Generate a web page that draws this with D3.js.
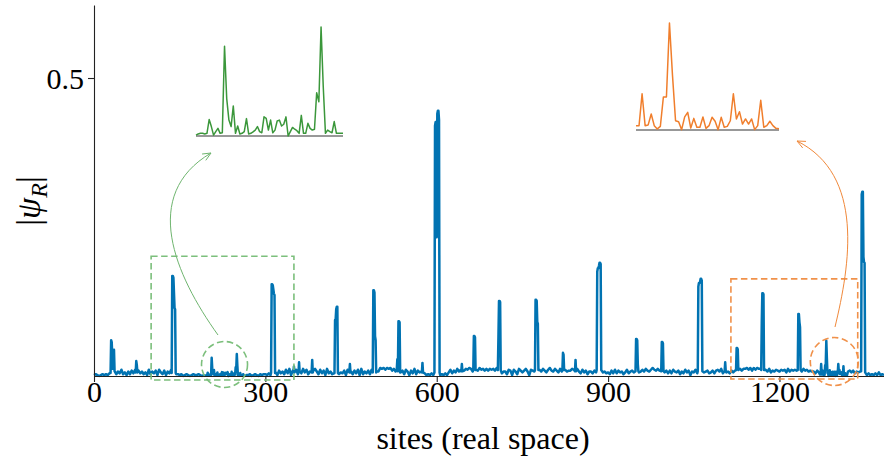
<!DOCTYPE html>
<html><head><meta charset="utf-8">
<script src="https://cdn.jsdelivr.net/npm/d3@7"></script>
<style>
body{margin:0;background:#fff}
svg{display:block}
text{font-family:"Liberation Serif","DejaVu Serif",serif;fill:#000}
</style>
</head><body>
<svg id="c" width="884" height="470"></svg>
<script>
// ---------------- data ----------------
const xTicks = [0, 300, 600, 900, 1200];
const yTicks = [0.5];
const siteMax = 1383;
const yMax = 0.6225;

// background amplitude, one digit per 3 sites (digit * bgUnit)
const bgStep = 3, bgUnit = 0.0015;
const background = [
 "1210121213","3162537241","5263716352","4172536174","2615372222",
 "1201210121","1210121012","1111111111","1111111201","1201210212",
 "2131254163","5273816472","6384725168","5273618352","3152436172",
 "5263718253","6274155989","7989685244","6275163826","4513121312",
 "1312131473","6485796879","8597697868","6878697535","5276175286",
 "4685176565","7586479658","6485775668","7585374625","5364657453",
 "4263736452","4735642745","7586579768","6574636375","4625374615",
 "4735464563","4636758364","5364637868","8979697988","6475846576",
 "5767485767","6575867565","5364545454","4444444444","5646354544",
 "2131213141","2121212121"
].join("");

// localized peaks: [site, |psi|]
const peaks = [
 [[29,0.005],[30,0.060],[31,0.057],[33,0.012],[35,0.044],[36,0.008]],
 [[73,0.006],[74,0.025],[75,0.018],[76,0.006]],
 [[136,0.005],[137,0.168],[138,0.168],[139,0.165],[141,0.114],[142,0.112],[143,0.005]],
 [[310,0.005],[311,0.154],[312,0.154],[313,0.152],[315,0.138],[316,0.136],[317,0.005]],
 [[349,0.006],[350,0.016],[351,0.006]],
 [[358,0.006],[359,0.023],[360,0.008]],
 [[381,0.006],[382,0.027],[383,0.006]],
 [[421,0.005],[422,0.094],[423,0.094],[424,0.112],[425,0.116],[426,0.116],[427,0.005]],
 [[447,0.006],[448,0.020],[449,0.006]],
 [[488,0.006],[489,0.144],[490,0.144],[491,0.140],[492,0.067],[493,0.060],[494,0.006]],
 [[530,0.010],[531,0.028],[532,0.008],[533,0.092],[534,0.092],[535,0.090],[536,0.006]],
 [[574,0.006],[575,0.022],[576,0.006]],
 [[596,0.006],[597,0.420],[598,0.426],[599,0.426],[600,0.233],[601,0.440],[602,0.445],[603,0.445],[604,0.430],[605,0.006]],
 [[643,0.008],[644,0.020],[645,0.008]],
 [[664,0.010],[665,0.067],[666,0.067],[667,0.065],[668,0.010]],
 [[707,0.010],[708,0.064],[709,0.126],[710,0.126],[711,0.124],[712,0.010]],
 [[772,0.010],[773,0.128],[774,0.128],[775,0.126],[776,0.091],[777,0.088],[778,0.010]],
 [[820,0.010],[821,0.039],[822,0.036],[823,0.010]],
 [[842,0.008],[843,0.027],[844,0.008]],
 [[880,0.010],[881,0.175],[882,0.181],[883,0.181],[884,0.185],[885,0.190],[886,0.190],[887,0.188],[888,0.010]],
 [[948,0.008],[949,0.062],[950,0.062],[951,0.060],[952,0.020],[953,0.008]],
 [[993,0.008],[994,0.057],[995,0.057],[996,0.055],[997,0.008]],
 [[1057,0.008],[1058,0.150],[1059,0.156],[1060,0.156],[1061,0.158],[1062,0.163],[1063,0.163],[1064,0.160],[1065,0.008]],
 [[1104,0.008],[1105,0.023],[1106,0.008]],
 [[1124,0.010],[1125,0.047],[1126,0.047],[1127,0.045],[1128,0.010]],
 [[1168,0.010],[1169,0.089],[1170,0.139],[1171,0.139],[1172,0.137],[1173,0.010]],
 [[1232,0.010],[1233,0.104],[1234,0.104],[1235,0.090],[1236,0.082],[1237,0.010]],
 [[1343,0.008],[1344,0.305],[1345,0.309],[1346,0.309],[1347,0.200],[1348,0.191],[1349,0.190],[1350,0.006]]
];

// zoomed windows (one value per site)
const greenStart = 193;
const greenValues = [0.0003,0.0007,0.0009,0.0009,0.0007,0.0009,0.0056,0.0032,0.0003,0.0015,
 0.0026,0.0009,0.0011,0.0305,0.0127,0.0054,0.0032,0.0102,0.0009,0.0034,
 0.0007,0.0009,0.0015,0.0059,0.0007,0.0009,0.0014,0.0020,0.0032,0.0015,
 0.0011,0.0065,0.0060,0.0020,0.0054,0.0011,0.0020,0.0051,0.0054,0.0034,
 0.0040,0.0065,0.0000,0.0015,0.0029,0.0023,0.0018,0.0009,0.0070,0.0009,
 0.0009,0.0043,0.0026,0.0020,0.0023,0.0147,0.0116,0.0370,0.0167,0.0009,
 0.0020,0.0015,0.0011,0.0049,0.0009,0.0009,0.0009,0.0009];
const orangeStart = 1271;
const orangeValues = [0.0024,0.0024,0.020,0.0024,0.0028,0.0088,0.0024,0.0006,0.0020,0.0182,
 0.0182,0.059,0.030,0.0051,0.0046,0.0002,0.0072,0.0097,0.0011,0.0064,
 0.0015,0.0015,0.0072,0.0009,0.0024,0.0070,0.0048,0.0002,0.0070,0.0015,
 0.0020,0.0051,0.020,0.0061,0.0101,0.0033,0.0061,0.0033,0.0061,0.0002,
 0.0024,0.0164,0.0015,0.0024,0.0048,0.0024,0.0009,0.0007];

// annotation regions in data units: [site0, site1, val0, val1] and circle centers [site, val]
const greenBox = [100, 350, -0.0067, 0.201];
const orangeBox = [1115, 1337, -0.005, 0.163];
const greenCircle = [228.5, 0.0193];
const orangeCircle = [1296, 0.0243];

// ---------------- build series ----------------
const pts = new Map();
for (let i = 0; i < background.length; i++) {
  const s = i * bgStep;
  if (s <= siteMax) pts.set(s, +background[i] * bgUnit);
}
function override(list) {
  const lo = list[0][0], hi = list[list.length - 1][0];
  for (const k of [...pts.keys()]) if (k >= lo && k <= hi) pts.delete(k);
  list.forEach(([s, v]) => pts.set(s, v));
}
peaks.forEach(override);
const greenWin = greenValues.map((v, i) => [greenStart + i, v]);
const orangeWin = orangeValues.map((v, i) => [orangeStart + i, v]);
override(greenWin);
override(orangeWin);
const series = [...pts].sort((a, b) => a[0] - b[0]);

// ---------------- drawing ----------------
const svg = d3.select('#c');
const M = {left: 94, right: 884, top: 5, bottom: 376};
const x = d3.scaleLinear().domain([0, siteMax]).range([M.left, M.right]);
const y = d3.scaleLinear().domain([0, yMax]).range([M.bottom, M.top]);

const BLUE = '#0173b2', GREEN = '#3b973b', ORANGE = '#f07e2c';
const GREEN_L = '#7cbf7c', ORANGE_L = '#f0914a';

svg.append('path').datum(series)
  .attr('d', d3.line().x(d => x(d[0])).y(d => y(d[1])))
  .attr('fill', 'none').attr('stroke', BLUE).attr('stroke-width', 2.5)
  .attr('stroke-linejoin', 'round');

// axes
const gx = svg.append('g').attr('transform', `translate(0,${M.bottom})`)
  .call(d3.axisBottom(x).tickValues(xTicks).tickSize(6).tickSizeOuter(0).tickFormat(d3.format('d')));
const gy = svg.append('g').attr('transform', `translate(${M.left},0)`)
  .call(d3.axisLeft(y).tickValues(yTicks).tickSize(6).tickSizeOuter(0).tickFormat(d3.format('.1f')));
[gx, gy].forEach(g => {
  g.attr('font-family', null).attr('font-size', null);
  g.selectAll('path,line').attr('stroke', '#222').attr('stroke-width', 1.1);
  g.selectAll('text').style('font-size', '30px').attr('fill', '#000');
});
gx.selectAll('text').attr('y', 26).attr('dy', null);
gy.selectAll('text').attr('x', -10).attr('dy', '0.36em');

// axis labels
svg.append('text').attr('x', 483).attr('y', 449).attr('text-anchor', 'middle')
  .style('font-size', '32px').text('sites (real space)');
const yl = svg.append('text').attr('transform', 'translate(40,201) rotate(-90)')
  .attr('text-anchor', 'middle').style('font-size', '34px');
yl.append('tspan').text('|');
yl.append('tspan').style('font-style', 'italic').text('ψ');
yl.append('tspan').style('font-style', 'italic').style('font-size', '24px').attr('dy', 7).text('R');
yl.append('tspan').attr('dy', -7).text('|');

// dashed boxes & circles
function box(b, color) {
  svg.append('rect')
    .attr('x', x(b[0])).attr('y', y(b[3]))
    .attr('width', x(b[1]) - x(b[0])).attr('height', y(b[2]) - y(b[3]))
    .attr('fill', 'none').attr('stroke', color).attr('stroke-width', 1.6)
    .attr('stroke-dasharray', '6.5,3.5');
}
function circ(c, r, color) {
  svg.append('circle').attr('cx', x(c[0])).attr('cy', y(c[1])).attr('r', r)
    .attr('fill', 'none').attr('stroke', color).attr('stroke-width', 1.6)
    .attr('stroke-dasharray', '6.5,3.5');
}
box(greenBox, GREEN_L); box(orangeBox, ORANGE_L);
circ(greenCircle, 23, GREEN_L); circ(orangeCircle, 24, ORANGE_L);

// insets
function inset(win, x0, x1, yBase, yTop, color) {
  const ix = d3.scaleLinear().domain([win[0][0], win[win.length - 1][0]]).range([x0, x1]);
  const iy = d3.scaleLinear().domain([0, d3.max(win, d => d[1])]).range([yBase, yTop]);
  svg.append('line').attr('x1', x0).attr('x2', x1).attr('y1', yBase).attr('y2', yBase)
    .attr('stroke', '#333').attr('stroke-width', 1);
  svg.append('path').datum(win)
    .attr('d', d3.line().x(d => ix(d[0])).y(d => iy(d[1])))
    .attr('fill', 'none').attr('stroke', color).attr('stroke-width', 1.5)
    .attr('stroke-linejoin', 'round');
}
inset(greenWin, 196, 343, 136, 27, GREEN);
inset(orangeWin, 636, 779, 130, 23, ORANGE);

// curved arrows
function arrow(p0, c1, c2, p3, color) {
  const p = d3.path();
  p.moveTo(p0[0], p0[1]); p.bezierCurveTo(c1[0], c1[1], c2[0], c2[1], p3[0], p3[1]);
  svg.append('path').attr('d', p.toString()).attr('fill', 'none')
    .attr('stroke', color).attr('stroke-width', 1);
  const dx = p3[0] - c2[0], dy = p3[1] - c2[1], L = Math.hypot(dx, dy);
  const ux = dx / L, uy = dy / L, len = 9, a = 0.42;
  const h = d3.path();
  [a, -a].forEach((t, i) => {
    const cs = Math.cos(t), sn = Math.sin(t);
    const bx = -(ux * cs - uy * sn) * len, by = -(ux * sn + uy * cs) * len;
    h.moveTo(p3[0] + bx, p3[1] + by); h.lineTo(p3[0], p3[1]);
  });
  svg.append('path').attr('d', h.toString()).attr('fill', 'none')
    .attr('stroke', color).attr('stroke-width', 1);
}
arrow([218, 335], [175, 275], [140, 195], [211, 153], '#6fb56f');
arrow([835, 327], [850, 265], [865, 175], [797, 141], '#f0883a');
</script>
</body></html>
